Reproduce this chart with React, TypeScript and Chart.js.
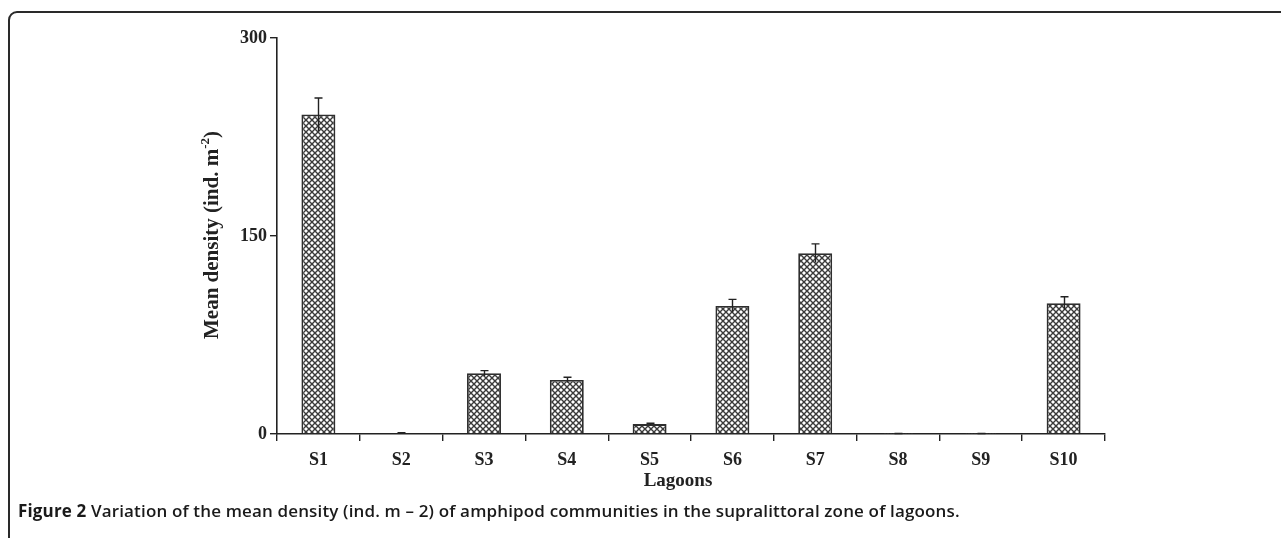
import React, { useEffect, useRef } from "react";
import { Chart, registerables } from "chart.js";

Chart.register(...registerables);

const categories = ["S1", "S2", "S3", "S4", "S5", "S6", "S7", "S8", "S9", "S10"];
const meanDensity = [242, 0.6, 46, 41, 7.5, 97, 137, 0.3, 0.3, 99];
const errorValues = [12.5, 0.3, 2, 2, 0.6, 5, 7, 0.1, 0.1, 5];
const yTickValues = [0, 150, 300];
const xTitle = "Lagoons";
const yTitleMain = "Mean density (ind. m";
const yTitleSup = "-2";
const yTitleEnd = ")";
const captionBold = "Figure 2";
const captionRest =
  " Variation of the mean density (ind. m \u2013 2) of amphipod communities in the supralittoral zone of lagoons.";

const SERIF = "'Liberation Serif', 'Times New Roman', serif";
const INK = "#222";

function makePattern(): CanvasPattern | string {
  const s = 6;
  const c = document.createElement("canvas");
  c.width = s;
  c.height = s;
  const g = c.getContext("2d");
  if (!g) return "#999";
  g.fillStyle = "#ffffff";
  g.fillRect(0, 0, s, s);
  g.strokeStyle = "#3a3a3a";
  g.lineWidth = 1.4;
  for (let k = -1; k <= 1; k++) {
    g.beginPath();
    g.moveTo(k * s, 0);
    g.lineTo(k * s + s, s);
    g.moveTo(k * s + s, 0);
    g.lineTo(k * s, s);
    g.stroke();
  }
  const p = g.createPattern(c, "repeat");
  return p || "#999";
}

const errorBarPlugin = {
  id: "errorBars",
  afterDatasetsDraw(chart: any) {
    const ctx = chart.ctx;
    const meta = chart.getDatasetMeta(0);
    const ys = chart.scales.y;
    ctx.save();
    ctx.strokeStyle = INK;
    ctx.lineWidth = 1.4;
    meta.data.forEach((bar: any, i: number) => {
      const v = meanDensity[i];
      const e = errorValues[i];
      const x = Math.round(bar.x) + 0.5;
      const yTop = ys.getPixelForValue(v + e);
      const yBot = ys.getPixelForValue(Math.max(0, v - e));
      ctx.beginPath();
      ctx.moveTo(x, yTop);
      ctx.lineTo(x, yBot);
      ctx.moveTo(x - 4, yTop);
      ctx.lineTo(x + 4, yTop);
      ctx.stroke();
    });
    ctx.restore();
  },
};

const titlesPlugin = {
  id: "axisTitles",
  afterDraw(chart: any) {
    const ctx = chart.ctx;
    ctx.save();
    ctx.fillStyle = INK;
    ctx.textBaseline = "middle";
    // x title
    ctx.font = `bold 19px ${SERIF}`;
    ctx.textAlign = "center";
    ctx.fillText(xTitle, 678, 481);
    // y title with superscript
    ctx.translate(213, 235);
    ctx.rotate(-Math.PI / 2);
    ctx.textAlign = "left";
    const mainFont = `bold 21px ${SERIF}`;
    const supFont = `bold 13px ${SERIF}`;
    ctx.font = mainFont;
    const w1 = ctx.measureText(yTitleMain).width;
    const w3 = ctx.measureText(yTitleEnd).width;
    ctx.font = supFont;
    const w2 = ctx.measureText(yTitleSup).width;
    const total = w1 + w2 + w3;
    let x = -total / 2;
    ctx.font = mainFont;
    ctx.fillText(yTitleMain, x, 0);
    x += w1;
    ctx.font = supFont;
    ctx.fillText(yTitleSup, x, -7);
    x += w2;
    ctx.font = mainFont;
    ctx.fillText(yTitleEnd, x, 0);
    ctx.restore();
  },
};

export default function App() {
  const ref = useRef<HTMLCanvasElement | null>(null);

  useEffect(() => {
    if (!ref.current) return;
    const chart = new Chart(ref.current, {
      type: "bar",
      data: {
        labels: categories,
        datasets: [
          {
            data: meanDensity,
            backgroundColor: makePattern() as any,
            borderColor: "#2e2e2e",
            borderWidth: 1.8,
            categoryPercentage: 1,
            barPercentage: 0.41,
          },
        ],
      },
      options: {
        animation: false,
        responsive: false,
        devicePixelRatio: 1,
        layout: { padding: { left: 0, top: 38, right: 176, bottom: 44 } },
        plugins: {
          legend: { display: false },
          tooltip: { enabled: false },
          title: { display: false },
        },
        scales: {
          x: {
            type: "category",
            grid: {
              drawOnChartArea: false,
              drawTicks: true,
              tickLength: 7,
              color: INK,
              lineWidth: 1.4,
              offset: true,
            },
            border: { display: true, color: INK, width: 1.6 },
            ticks: {
              color: INK,
              font: { family: SERIF, size: 18, weight: "bold" },
              padding: 9,
              maxRotation: 0,
            },
            afterFit(scale: any) {
              scale.height = 60;
            },
          },
          y: {
            min: 0,
            max: 300,
            grid: {
              drawOnChartArea: false,
              drawTicks: true,
              tickLength: 7,
              color: INK,
              lineWidth: 1.4,
            },
            border: { display: true, color: INK, width: 1.6 },
            afterBuildTicks(scale: any) {
              scale.ticks = yTickValues.map((v) => ({ value: v }));
            },
            ticks: {
              color: INK,
              font: { family: SERIF, size: 18, weight: "bold" },
              padding: 3,
            },
            afterFit(scale: any) {
              scale.width = 277;
            },
          },
        },
      },
      plugins: [errorBarPlugin, titlesPlugin],
    });
    return () => chart.destroy();
  }, []);

  return (
    <div
      style={{
        position: "fixed",
        left: 0,
        top: 0,
        width: 1281,
        height: 538,
        overflow: "hidden",
        background: "#fff",
      }}
    >
      <div
        style={{
          position: "absolute",
          left: 8,
          top: 11,
          width: 1400,
          height: 700,
          border: "2px solid #2a2a2a",
          borderTopLeftRadius: 9,
          boxSizing: "border-box",
        }}
      />
      <canvas
        ref={ref}
        width={1281}
        height={538}
        style={{ position: "absolute", left: 0, top: 0, display: "block" }}
      />
      <div
        style={{
          position: "absolute",
          left: 18,
          top: 501,
          fontFamily: "'Open Sans', 'Noto Sans', sans-serif",
          fontSize: 17,
          fontWeight: 600,
          color: "#1a1a1a",
          whiteSpace: "nowrap",
          lineHeight: "20px",
          letterSpacing: "0.15px",
        }}
      >
        <span style={{ fontWeight: 700 }}>{captionBold}</span>
        {captionRest}
      </div>
    </div>
  );
}
